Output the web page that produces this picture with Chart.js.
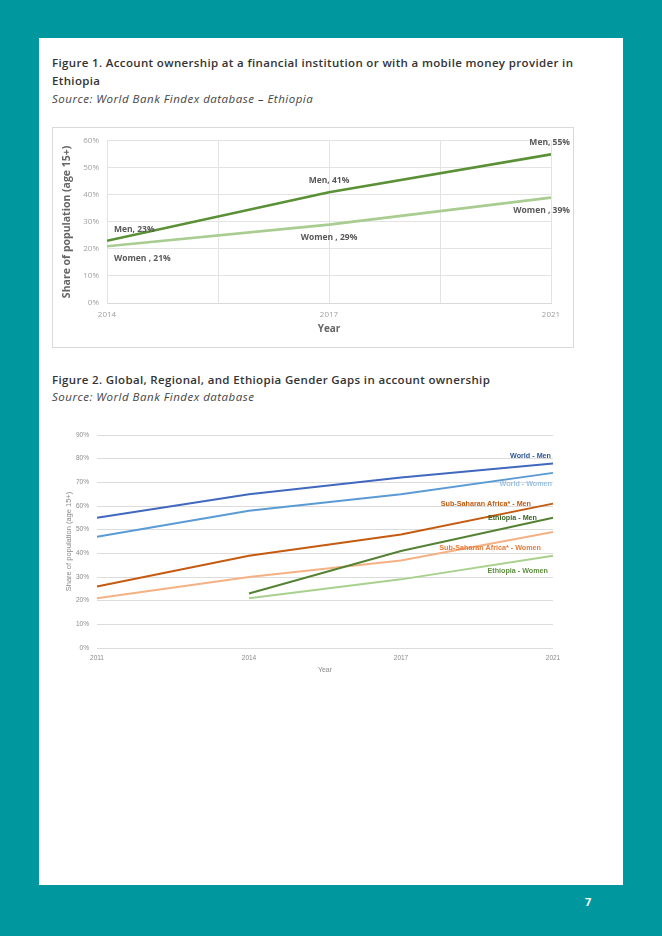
<!DOCTYPE html>
<html>
<head>
<meta charset="utf-8">
<script src="https://cdn.jsdelivr.net/npm/chart.js@4"></script>
<style>
  html,body{margin:0;padding:0;}
  body{width:662px;height:936px;background:#00979F;position:relative;overflow:hidden;font-family:"Open Sans",sans-serif;}
  #page{position:absolute;left:39px;top:38px;width:584px;height:847px;background:#fff;}
  .title{position:absolute;left:52px;color:#333;font-weight:600;font-size:11.5px;letter-spacing:0.35px;line-height:18px;width:530px;}
  .src{position:absolute;left:52px;color:#444;font-style:italic;font-size:11.5px;letter-spacing:0.5px;font-weight:400;}
  #box1{position:absolute;left:52px;top:127px;width:522px;height:221px;border:1px solid #d9d9d9;box-sizing:border-box;}
  #wrap1{position:absolute;left:0;top:0;width:520px;height:219px;}
  #wrap2{position:absolute;left:52px;top:420px;width:524px;height:265px;}
  #pnum{position:absolute;left:585px;top:894px;color:#fff;font-weight:700;font-size:11px;}
</style>
</head>
<body>
<div id="page"></div>
<div class="title" style="top:54px;">Figure 1. Account ownership at a financial institution or with a mobile money provider in Ethiopia</div>
<div class="src" style="top:91px;">Source: World Bank Findex database – Ethiopia</div>
<div id="box1"><div id="wrap1"><canvas id="c1"></canvas></div></div>
<div class="title" style="top:371px;">Figure 2. Global, Regional, and Ethiopia Gender Gaps in account ownership</div>
<div class="src" style="top:389px;">Source: World Bank Findex database</div>
<div id="wrap2"><canvas id="c2"></canvas></div>
<div id="pnum">7</div>
<script>
// ---- Figure 1 data ----
const years1 = ['2014', '2017', '2021'];
const men1 = [23, 41, 55];
const women1 = [21, 29, 39];
const seriesNames1 = ['Men', 'Women '];

// ---- Figure 2 data ----
const years2 = ['2011', '2014', '2017', '2021'];
const worldMen = [55, 65, 72, 78];
const worldWomen = [47, 58, 65, 74];
const ssaMen = [26, 39, 48, 61];
const ssaWomen = [21, 30, 37, 49];
const ethMen = [null, 23, 41, 55];
const ethWomen = [null, 21, 29, 39];
const seriesNames2 = ['World - Men', 'World - Women', 'Sub-Saharan Africa* - Men', 'Ethiopia - Men', 'Sub-Saharan Africa* - Women', 'Ethiopia - Women'];

Chart.defaults.devicePixelRatio = 1;
Chart.defaults.animation = false;

// label placement (style only)
const lab1 = [
  [{a:'left',dx:7,dy:-11},{a:'center',dx:0,dy:-12},{a:'right',dx:19,dy:-12}],
  [{a:'left',dx:7,dy:12},{a:'center',dx:0,dy:13},{a:'right',dx:19,dy:13}]
];
const labelPlugin1 = {
  id:'lab1',
  afterDatasetsDraw(chart){
    const ctx = chart.ctx;
    ctx.save();
    ctx.font = 'bold 8.5px "Open Sans"';
    ctx.fillStyle = '#595959';
    ctx.textBaseline = 'middle';
    chart.data.datasets.forEach((ds, di) => {
      const meta = chart.getDatasetMeta(di);
      meta.data.forEach((pt, i) => {
        const s = lab1[di][i];
        ctx.textAlign = s.a;
        ctx.fillText(seriesNames1[di] + ', ' + ds.data[i].y + '%', pt.x + s.dx, pt.y + s.dy);
      });
    });
    ctx.restore();
  }
};

new Chart(document.getElementById('c1'), {
  type:'line',
  data:{
    datasets:[
      {label:'Men', data: men1.map((v,i)=>({x:i,y:v})), borderColor:'#5B9136', borderWidth:2.6, pointRadius:0, tension:0},
      {label:'Women', data: women1.map((v,i)=>({x:i,y:v})), borderColor:'#A9CC90', borderWidth:2.6, pointRadius:0, tension:0}
    ]
  },
  options:{
    responsive:true, maintainAspectRatio:false,
    layout:{padding:{left:0,top:10,right:22,bottom:0}},
    plugins:{legend:{display:false}, tooltip:{enabled:false}},
    scales:{
      x:{type:'linear', min:0, max:years1.length-1,
        afterFit:(s)=>{s.height=44;},
        grid:{color:'#e3e3e3', drawTicks:false},
        border:{color:'#d9d9d9'},
        ticks:{stepSize:0.5, padding:7, color:'#a0a0a0', font:{size:8, family:'"Open Sans"'}, maxRotation:0,
          callback:(v)=> Number.isInteger(v) ? years1[v] : ''},
        title:{display:true, text:'Year', color:'#666', font:{size:10, weight:'bold', family:'"Open Sans"'}, padding:{bottom:12}}
      },
      y:{min:0, max:60,
        afterFit:(s)=>{s.width=54;},
        grid:{color:'#e3e3e3', drawTicks:false},
        border:{display:false},
        ticks:{stepSize:10, padding:8, color:'#a0a0a0', font:{size:8, family:'"Open Sans"'}, callback:(v)=>v+'%'},
        title:{display:true, text:'Share of population (age 15+)', color:'#666', font:{size:10.5, weight:'bold', family:'"Open Sans"'}, padding:{top:8}}
      }
    }
  },
  plugins:[labelPlugin1]
});

// Figure 2
const lab2 = [
  {c:'#2F5597', dx:-2, dy:-7},
  {c:'#9DC3E6', dx:-1, dy:11},
  {c:'#C55A11', dx:-22, dy:0},
  {c:'#3B6526', dx:-16, dy:0},
  {c:'#E97C3A', dx:-12, dy:16},
  {c:'#5E8F40', dx:-5, dy:15}
];
const labelPlugin2 = {
  id:'lab2',
  afterDatasetsDraw(chart){
    const ctx = chart.ctx;
    ctx.save();
    ctx.font = 'bold 7.2px "Liberation Sans"';
    ctx.textBaseline = 'middle';
    ctx.textAlign = 'right';
    chart.data.datasets.forEach((ds, di) => {
      const meta = chart.getDatasetMeta(di);
      const pt = meta.data[meta.data.length-1];
      const s = lab2[di];
      ctx.fillStyle = s.c;
      ctx.fillText(seriesNames2[di], pt.x + s.dx, pt.y + s.dy);
    });
    ctx.restore();
  }
};

const mk = (d, c) => ({data:d, borderColor:c, borderWidth:2, pointRadius:0, tension:0, spanGaps:false});
new Chart(document.getElementById('c2'), {
  type:'line',
  data:{
    labels: years2,
    datasets:[
      mk(worldMen,'#4068BF'),
      mk(worldWomen,'#5B9BD5'),
      mk(ssaMen,'#C55A11'),
      mk(ethMen,'#548235'),
      mk(ssaWomen,'#F4B183'),
      mk(ethWomen,'#A9D18E')
    ]
  },
  options:{
    responsive:true, maintainAspectRatio:false,
    layout:{padding:{left:0,top:15,right:23,bottom:0}},
    plugins:{legend:{display:false}, tooltip:{enabled:false}},
    scales:{
      x:{offset:false,
        afterFit:(s)=>{s.height=37;},
        grid:{display:false, drawTicks:false},
        border:{display:false},
        ticks:{padding:6, color:'#8a8a8a', font:{size:6.5, family:'"Liberation Sans"'}, maxRotation:0},
        title:{display:true, text:'Year', color:'#8a8a8a', font:{size:7, family:'"Liberation Sans"'}, padding:{bottom:11}}
      },
      y:{min:0, max:90,
        afterFit:(s)=>{s.width=45;},
        grid:{color:'#dcdcdc', drawTicks:false},
        border:{display:false},
        ticks:{stepSize:10, padding:8, color:'#8a8a8a', font:{size:6.5, family:'"Liberation Sans"'}, callback:(v)=>v+'%'},
        title:{display:true, text:'Share of population (age 15+)', color:'#8a8a8a', font:{size:7.5, family:'"Liberation Sans"'}, padding:{top:12}}
      }
    }
  },
  plugins:[labelPlugin2]
});
</script>
</body>
</html>
